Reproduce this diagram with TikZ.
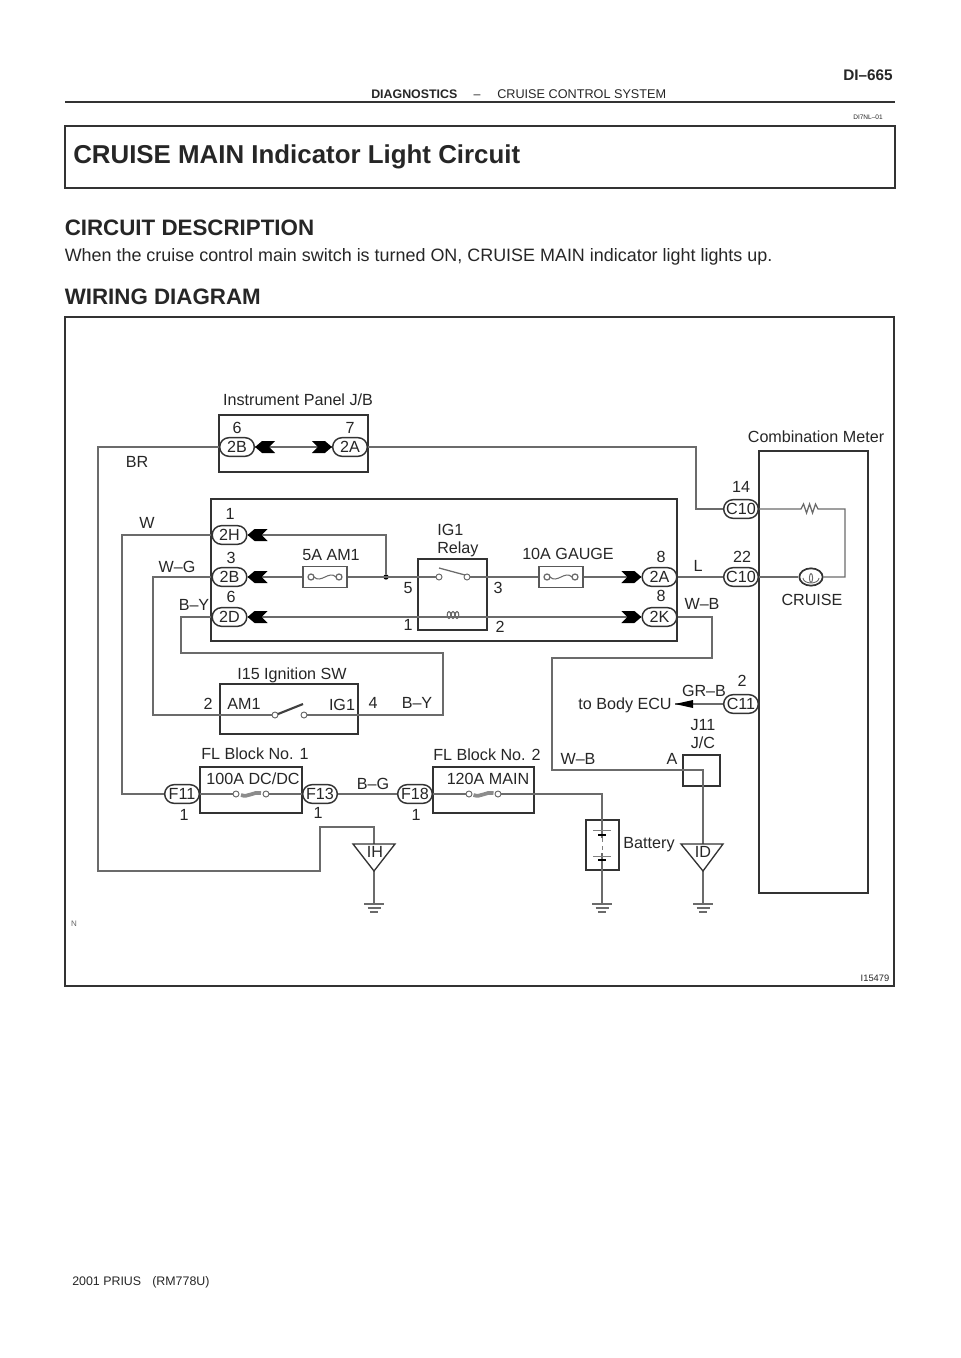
\documentclass[tikz,border=0pt]{standalone}
\usepackage{fontspec}
\setmainfont{Liberation Sans}
\usepackage{tikz}
\usetikzlibrary{shapes.geometric, shapes.misc, arrows, positioning, calc}
\tikzstyle{lbl} = [inner sep = 0pt, text height = 8.4pt, text depth = 0pt, font = \fontsize{12.1}{14}\selectfont, text = black!85]
\tikzstyle{pagetxt} = [lbl, anchor = west]
\tikzstyle{pill} = [rounded rectangle, draw = black!80, line width = 1.1pt, fill = white, minimum width = 26pt, minimum height = 14pt, inner sep = 0pt, lbl]
\tikzstyle{wire} = [draw = black!58, line width = 0.95pt]
\tikzstyle{boite} = [draw = black!80, line width = 1.15pt]
\tikzstyle{fusible} = [rectangle, draw = black!65, line width = 1.1pt, minimum width = 33pt, minimum height = 16pt, inner sep = 0pt]
\tikzstyle{contact} = [circle, draw = black!60, fill = white, line width = 0.7pt, minimum size = 4.5pt, inner sep = 0pt]
\tikzset{
  forktip/.pic = {\fill[black] (0,0) -- (7,-6) -- (20,-6) -- (14,0) -- (20,6) -- (7,6) -- cycle;},
  terre/.pic = {\draw[wire] (-10,0) -- (10,0) (-6.5,4) -- (6.5,4) (-4,8) -- (4,8);},
  fuseline/.pic = {\draw[wire, line width = 0.8pt] (-11,0) .. controls (-4,7) and (4,-7) .. (11,0);},
  fusebold/.pic = {\draw[black!45, line width = 2.8pt] (-10,1) .. controls (-3,4) and (3,-3) .. (10,-1);}
}
\begin{document}
\begin{tikzpicture}[x = 0.75pt, y = -0.75pt]
\useasboundingbox (0,0) rectangle (960,1358);

\node (page) [pagetxt, anchor = east, font = \fontsize{11.5}{13}\selectfont\bfseries] at (893,75) {DI--665};
\node (rub) [pagetxt, font = \fontsize{9.3}{11}\selectfont\bfseries] at (371,93) {DIAGNOSTICS};
\node (tiret) [lbl, font = \fontsize{9.3}{11}\selectfont] at (477,93) {--};
\node (rubb) [pagetxt, font = \fontsize{9.5}{11}\selectfont] at (497,93) {CRUISE CONTROL SYSTEM};
\coordinate (ruleL) at (65,102);
\coordinate (ruleR) at (895,102);
\draw[boite, line width = 1.3pt] (ruleL) -- (ruleR);
\node (ref) [lbl, text height = 3.5pt, font = \fontsize{4.9}{6}\selectfont] at (868,117) {DI7NL--01};
\draw[boite] (65,126) rectangle (895,188);
\node (titre) [pagetxt, text height = 13.5pt, font = \fontsize{19.4}{22}\selectfont\bfseries] at (73,155) {CRUISE MAIN Indicator Light Circuit};
\node (desc) [pagetxt, text height = 12pt, font = \fontsize{16.75}{19}\selectfont\bfseries] at (64.5,228) {CIRCUIT DESCRIPTION};
\node (phrase) [pagetxt, text height = 9.5pt, font = \fontsize{13.45}{16}\selectfont] at (64.5,255) {When the cruise control main switch is turned ON, CRUISE MAIN indicator light lights up.};
\node (wiring) [pagetxt, text height = 12pt, font = \fontsize{16.75}{19}\selectfont\bfseries] at (64.5,297) {WIRING DIAGRAM};
\node (foot) [pagetxt, font = \fontsize{9.3}{11}\selectfont, text height = 6.6pt] at (72,1281) {2001 PRIUS\hspace{0.9em}(RM778U)};

\draw[boite, line width = 1.3pt] (65,317) rectangle (894,986);
\node (num) [lbl, text height = 5pt, font = \fontsize{7}{8}\selectfont] at (875,978) {I15479};
\node (nord) [lbl, text height = 4pt, font = \fontsize{6}{7}\selectfont, text = black!60] at (74,924) {N};

\draw[boite] (219,415) rectangle (368,472);
\draw[boite] (211,499) rectangle (677,641);
\draw[boite] (418,559) rectangle (487,630);
\draw[boite] (220,684) rectangle (358,734);
\draw[boite] (200,767) rectangle (302,813);
\draw[boite] (433,767) rectangle (534,813);
\draw[boite] (759,451) rectangle (868,893);
\draw[boite, line width = 1pt] (683,755) rectangle (720,786);
\draw[boite, line width = 1pt] (586,820) rectangle (619,870);

\node (2Bo) [pill] at (237,447) {2B};
\node (2Ao) [pill] at (350,447) {2A};
\node (2H) [pill] at (229.5,535) {2H};
\node (2B) [pill] at (229.5,577) {2B};
\node (2D) [pill] at (229.5,617) {2D};
\node (2A) [pill] at (659.5,577) {2A};
\node (2K) [pill] at (659.5,617) {2K};
\node (C10a) [pill] at (741,509) {C10};
\node (C10b) [pill] at (741,577) {C10};
\node (C11) [pill] at (741,704) {C11};
\node (F11) [pill] at (182,794) {F11};
\node (F13) [pill] at (320,794) {F13};
\node (F18) [pill] at (415,794) {F18};

\node (f5A) [fusible] at (325,577) {};
\node (f10A) [fusible] at (561,577) {};
\node (swa) [contact] at (439,577) {};
\node (swb) [contact] at (467,577) {};
\node (iga) [contact] at (275,715) {};
\node (igb) [contact] at (304,715) {};
\node (ma) [contact] at (236,794) {};
\node (mb) [contact] at (266,794) {};
\node (na) [contact] at (469,794) {};
\node (nb) [contact] at (498,794) {};
\node (lamp) [ellipse, draw = black!80, line width = 1.3pt, fill = white, minimum width = 17.5pt, minimum height = 13pt, inner sep = 0pt] at (811,577) {};
\node (jonct) [circle, fill = black, minimum size = 4pt, inner sep = 0pt] at (386,577) {};

\coordinate (brA) at (98,871);
\coordinate (brB) at (320,827);
\coordinate (IHh) at (374,844);
\coordinate (IHb) at (374,871);
\coordinate (IHg) at (374,904);
\coordinate (wA) at (122,794);
\coordinate (wgA) at (153,715);
\coordinate (wgB) at (443,715);
\coordinate (wgC) at (181,653);
\coordinate (rA) at (696,509);
\coordinate (mA) at (845,509);
\coordinate (mB) at (845,577);
\coordinate (resA) at (798,509);
\coordinate (resB) at (822,509);
\coordinate (wbA) at (712,658);
\coordinate (wbB) at (552,770);
\coordinate (jc) at (703,770);
\coordinate (IDh) at (703,844);
\coordinate (IDb) at (703,871);
\coordinate (IDg) at (703,904);
\coordinate (batt) at (602,794);
\coordinate (battg) at (602,904);
\coordinate (flecheT) at (675,704);

\draw[wire] (2Bo.east) -- (2Ao.west);
\draw[wire] (2Bo.west) -| (brA) -| (brB) -| (IHh);
\draw[wire] (IHb) -- (IHg);
\draw[wire] (2Ao.east) -| (rA) -- (C10a.west);
\draw[wire] (2H.west) -| (wA) -- (F11.west);
\draw[wire] (2H.east) -| (jonct.north);
\draw[wire] (2B.west) -| (wgA) -- (iga.west);
\draw[wire] (igb.east) -- (wgB) |- (wgC) |- (2D.west);
\draw[wire] (2B.east) -- (f5A.west);
\draw[wire] (f5A.east) -- (swa.west);
\draw[wire] (swb.east) -- (f10A.west);
\draw[wire] (f10A.east) -- (2A.west);
\draw[wire] (2D.east) -- (2K.west);
\draw[wire] (2A.east) -- (C10b.west);
\draw[wire] (2K.east) -| (wbA) -| (wbB) -- (jc) -- (IDh);
\draw[wire] (IDb) -- (IDg);
\draw[wire] (C10a.east) -- (resA) -- ++(3,0) -- ++(2.5,-5) -- ++(3,9) -- ++(3,-9) -- ++(3,9) -- ++(3,-9) -- ++(2.5,5) -- (resB) -- (mA) -- (mB) -- (lamp.east);
\draw[wire] (C10b.east) -- (lamp.west);
\draw[wire] (C11.west) -- (flecheT);
\draw[wire] (F11.east) -- (ma.west);
\draw[wire] (mb.east) -- (F13.west);
\draw[wire] (F13.east) -- (F18.west);
\draw[wire] (F18.east) -- (na.west);
\draw[wire] (nb.east) -- (batt) -- (battg);

\foreach \nd in {2Bo, 2H, 2B, 2D} \pic at (\nd.east) {forktip};
\foreach \nd in {2Ao, 2A, 2K} \pic[xscale = -1] at (\nd.west) {forktip};
\pic at (IHg) {terre};
\pic at (IDg) {terre};
\pic at (battg) {terre};
\pic at (f5A) {fuseline};
\pic at (f10A) {fuseline};
\pic at ($(ma)!0.5!(mb)$) {fusebold};
\pic at ($(na)!0.5!(nb)$) {fusebold};

\draw[wire] (f5A.center) ++(-14,0) circle [radius = 3];
\draw[wire] (f5A.center) ++(14,0) circle [radius = 3];
\draw[wire] (f10A.center) ++(-14,0) circle [radius = 3];
\draw[wire] (f10A.center) ++(14,0) circle [radius = 3];
\draw[wire] (swa) ++(0,-9) -- ($(swb) + (-2,-2)$);
\draw[black!75, line width = 1.6pt] (iga) ++(3,-1) -- ($(igb) + (-1,-11)$);
\foreach \cx in {449,453,457} \draw[wire, line width = 0.8pt] (\cx,615) ellipse [x radius = 1.8, y radius = 3.5];
\draw[wire, line width = 0.7pt] (803,578) arc [start angle = 180, end angle = 0, x radius = 8, y radius = 5];
\draw[wire, line width = 0.7pt] (811,578) ellipse [x radius = 1.6, y radius = 4.5];
\fill[black] (flecheT) -- ++(18,-4) -- ++(0,8) -- cycle;

\draw[boite, line width = 1pt] (353,844) -- (395,844) -- (IHb) -- cycle;
\draw[boite, line width = 1pt] (681,844) -- (723,844) -- (IDb) -- cycle;
\draw[black!50, line width = 0.7pt] (593,830) -- (611,830);
\draw[black, line width = 1.3pt] (598,835) -- (606,835);
\draw[white, line width = 1pt] (602,838) -- (602,853);
\draw[black!50, line width = 0.7pt, dashed] (602,838) -- (602,853);
\draw[black!50, line width = 0.7pt] (593,856) -- (611,856);
\draw[black, line width = 1.3pt] (598,860) -- (606,860);

\node (jbtit) [lbl] at (298,400) {Instrument Panel J/B};
\node (combi) [lbl] at (816,437) {Combination Meter};
\node (igtit) [lbl] at (292,674) {I15 Ignition SW};
\node (fltit) [lbl] at (255,754) {FL Block No. 1};
\node (fltitb) [lbl] at (487,755) {FL Block No. 2};
\node (dcdc) [lbl] at (253,779) {100A DC/DC};
\node (main) [lbl] at (488,779) {120A MAIN};
\node (am1f) [lbl] at (331,555) {5A AM1};
\node (gauge) [lbl] at (568,554) {10A GAUGE};
\node (relA) [pagetxt] at (437,530) {IG1};
\node (relB) [pagetxt] at (437,548) {Relay};
\node (cruise) [lbl] at (812,600) {CRUISE};
\node (batlbl) [lbl] at (649,843) {Battery};
\node (ecu) [lbl] at (625,704) {to Body ECU};
\node (jA) [lbl] at (703,725) {J11};
\node (jB) [lbl] at (703,743) {J/C};
\node (IH) [lbl] at (375,852) {IH};
\node (ID) [lbl] at (703,852) {ID};
\node (am1) [lbl] at (244,704) {AM1};
\node (ig1) [lbl] at (342,705) {IG1};

\node (brl) [lbl] at (137,462) {BR};
\node (wl) [lbl] at (147,523) {W};
\node (wgl) [lbl] at (177,567) {W--G};
\node (byl) [lbl] at (194,605) {B--Y};
\node (byr) [lbl] at (417,703) {B--Y};
\node (bgl) [lbl] at (373,784) {B--G};
\node (ll) [lbl] at (698,566) {L};
\node (wbl) [lbl] at (702,604) {W--B};
\node (wbm) [lbl] at (578,759) {W--B};
\node (grb) [lbl] at (704,691) {GR--B};
\node (al) [lbl] at (672,759) {A};

\node (n6a) [lbl] at (237,428) {6};
\node (n7) [lbl] at (350,428) {7};
\node (n1a) [lbl] at (230,514) {1};
\node (n3a) [lbl] at (231,558) {3};
\node (n6b) [lbl] at (231,597) {6};
\node (n8a) [lbl] at (661,557) {8};
\node (n8b) [lbl] at (661,596) {8};
\node (n5) [lbl] at (408,588) {5};
\node (n1b) [lbl] at (408,625) {1};
\node (n3b) [lbl] at (498,588) {3};
\node (n2a) [lbl] at (500,627) {2};
\node (n14) [lbl] at (741,487) {14};
\node (n22) [lbl] at (742,557) {22};
\node (n2b) [lbl] at (742,681) {2};
\node (n2c) [lbl] at (208,704) {2};
\node (n4) [lbl] at (373,703) {4};
\node (n1c) [lbl] at (184,815) {1};
\node (n1d) [lbl] at (318,813) {1};
\node (n1e) [lbl] at (416,815) {1};
\end{tikzpicture}
\end{document}
